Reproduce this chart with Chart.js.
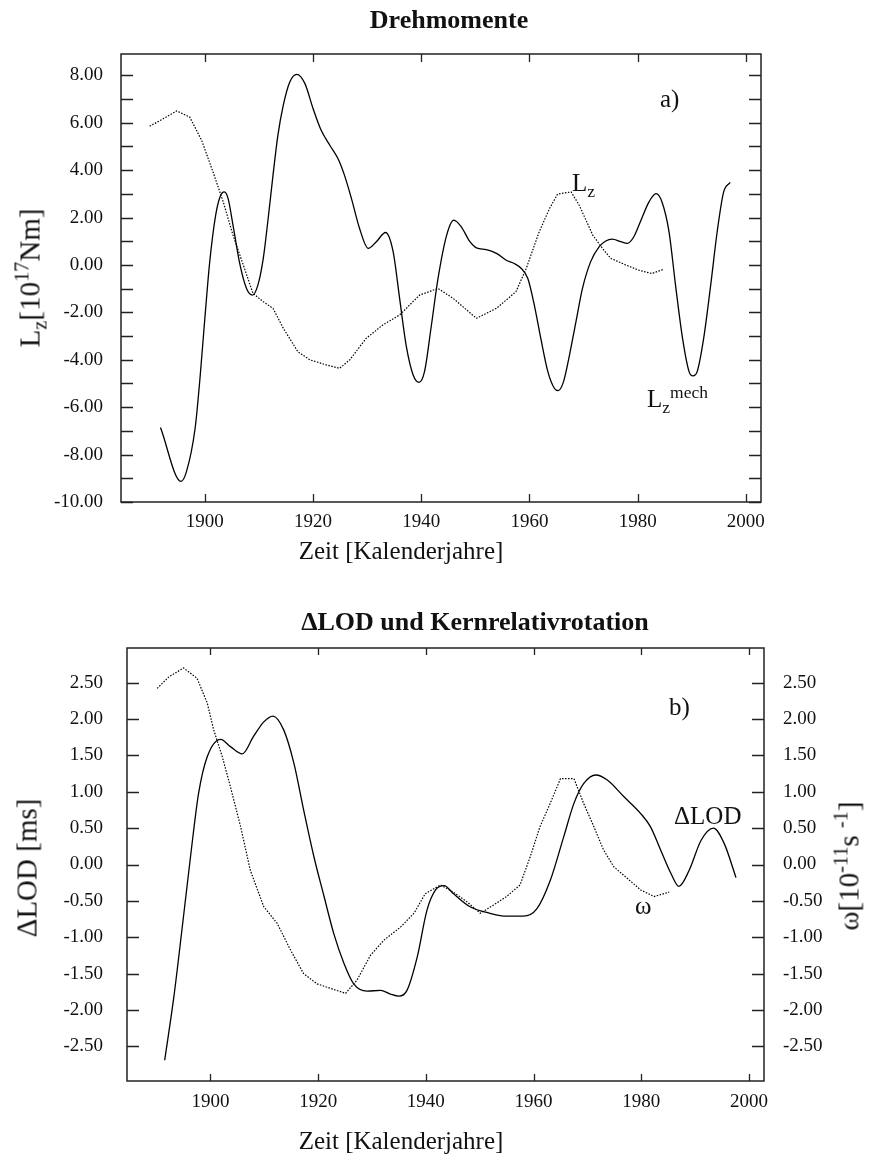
<!DOCTYPE html>
<html>
<head>
<meta charset="utf-8">
<script src="https://cdn.jsdelivr.net/npm/chart.js@4.4.1/dist/chart.umd.min.js"></script>
<style>
  body { margin: 0; background: #fff; }
  #wrap { position: relative; width: 870px; height: 1159px; font-family: "Liberation Serif", serif; color: #111; }
  canvas { position: absolute; left: 0; }
  .txt { position: absolute; white-space: nowrap; line-height: 1; }
  .titel { font-weight: bold; font-size: 26px; transform: translate(-50%, -50%); }
  .achse { font-size: 25px; transform: translate(-50%, -50%); }
  .dreh { font-size: 29px; transform: translate(-50%, -50%) rotate(-90deg); }
  .marke { font-size: 25px; }
  sub, sup { font-size: 0.7em; line-height: 0; }
</style>
</head>
<body>
<div id="wrap">
  <canvas id="chartDreh" width="870" height="580" style="top:0"></canvas>
  <canvas id="chartLod" width="870" height="579" style="top:580px"></canvas>

  <div class="txt titel" style="left:449px; top:20px">Drehmomente</div>
  <div class="txt achse" style="left:401px; top:550px">Zeit [Kalenderjahre]</div>
  <div class="txt dreh" style="left:30px; top:278px">L<sub>z</sub>[10<sup>17</sup>Nm]</div>
  <div class="txt marke" style="left:660px; top:86px">a)</div>
  <div class="txt marke" style="left:572px; top:170px">L<sub>z</sub></div>
  <div class="txt marke" style="left:647px; top:386px">L<sub>z</sub><sup>mech</sup></div>

  <div class="txt titel" style="left:475px; top:622px">ΔLOD und Kernrelativrotation</div>
  <div class="txt achse" style="left:401px; top:1140px">Zeit [Kalenderjahre]</div>
  <div class="txt dreh" style="left:27px; top:868px">ΔLOD [ms]</div>
  <div class="txt dreh" style="left:849px; top:866px">ω[10<sup>-11</sup>s <sup>-1</sup>]</div>
  <div class="txt marke" style="left:669px; top:694px">b)</div>
  <div class="txt marke" style="left:674px; top:803px">ΔLOD</div>
  <div class="txt marke" style="left:635px; top:893px">ω</div>
</div>

<script>
// Achsen
const jahreTicks = [1900, 1920, 1940, 1960, 1980, 2000];
const drehTicks = [-10, -9, -8, -7, -6, -5, -4, -3, -2, -1, 0, 1, 2, 3, 4, 5, 6, 7, 8];
const lodTicks = [-2.5, -2, -1.5, -1, -0.5, 0, 0.5, 1, 1.5, 2, 2.5];

// a) Drehmomente: Lz mech (durchgezogen)
const lzMechJahre = [1891.8, 1895.6, 1896.6, 1898.2, 1899.1, 1900.0, 1900.9, 1902.0, 1902.8, 1903.6, 1904.3, 1905.2, 1906.5, 1907.7, 1908.8, 1909.8, 1910.8, 1911.7, 1912.6, 1913.5, 1914.5, 1915.7, 1917.0, 1918.5, 1920.0, 1921.5, 1923.1, 1924.6, 1925.8, 1927.1, 1928.6, 1930.2, 1931.7, 1933.4, 1934.8, 1936.0, 1937.2, 1938.5, 1939.6, 1940.6, 1941.8, 1943.1, 1944.7, 1946.0, 1947.4, 1949.0, 1950.2, 1952.0, 1953.9, 1955.7, 1957.2, 1958.5, 1959.7, 1960.9, 1962.1, 1963.4, 1964.6, 1965.3, 1966.3, 1967.4, 1968.6, 1969.8, 1971.3, 1972.9, 1974.1, 1975.3, 1976.9, 1978.1, 1979.3, 1980.5, 1982.1, 1983.4, 1984.5, 1985.8, 1987.0, 1988.3, 1989.5, 1990.2, 1991.0, 1992.2, 1993.5, 1994.7, 1995.9, 1997.1];
const lzMechWerte = [-6.86, -9.13, -8.72, -6.89, -4.78, -2.25, 0.13, 2.10, 2.87, 3.08, 2.80, 1.68, 0.0, -0.99, -1.27, -0.85, 0.28, 1.96, 3.79, 5.47, 6.74, 7.72, 8.04, 7.65, 6.60, 5.68, 5.05, 4.49, 3.79, 2.80, 1.54, 0.70, 0.98, 1.37, 0.56, -1.41, -3.38, -4.64, -4.95, -4.50, -2.67, -0.57, 1.26, 1.89, 1.61, 0.98, 0.72, 0.65, 0.49, 0.20, 0.06, -0.15, -0.57, -1.69, -3.10, -4.50, -5.20, -5.30, -4.92, -3.80, -2.39, -0.99, 0.13, 0.77, 1.01, 1.09, 0.98, 0.91, 1.19, 1.82, 2.66, 3.01, 2.66, 1.40, -0.85, -3.10, -4.50, -4.68, -4.50, -3.10, -0.85, 1.40, 3.08, 3.48];

// a) Drehmomente: Lz (gepunktet)
const lzJahre = [1889.8, 1892.3, 1894.8, 1897.2, 1899.4, 1901.5, 1903.4, 1905.2, 1907.1, 1908.9, 1910.8, 1912.6, 1914.5, 1917.2, 1919.4, 1922.5, 1924.9, 1926.8, 1929.8, 1932.9, 1936.0, 1939.7, 1943.1, 1945.9, 1950.2, 1953.9, 1957.5, 1959.4, 1961.8, 1963.7, 1965.2, 1967.7, 1969.2, 1971.7, 1973.5, 1975.0, 1977.8, 1980.2, 1982.6, 1984.7];
const lzWerte = [5.85, 6.17, 6.50, 6.24, 5.26, 3.93, 2.66, 1.26, 0.0, -1.2, -1.55, -1.83, -2.67, -3.66, -4.0, -4.22, -4.36, -4.0, -3.1, -2.53, -2.11, -1.27, -0.99, -1.41, -2.25, -1.83, -1.13, -0.15, 1.40, 2.38, 2.99, 3.08, 2.52, 1.26, 0.70, 0.28, 0.0, -0.22, -0.36, -0.19];

// b) Delta LOD (durchgezogen)
const lodJahre = [1891.5, 1893.2, 1894.7, 1896.3, 1897.8, 1899.4, 1901.9, 1903.7, 1905.9, 1908.0, 1909.9, 1911.6, 1913.6, 1915.5, 1917.3, 1919.2, 1921.1, 1922.9, 1924.8, 1926.6, 1929.1, 1931.6, 1933.4, 1935.0, 1936.5, 1938.4, 1940.2, 1941.8, 1943.4, 1945.1, 1948.2, 1951.9, 1955.0, 1958.1, 1960.6, 1963.1, 1965.6, 1967.5, 1969.3, 1971.6, 1973.7, 1976.8, 1979.9, 1981.7, 1983.6, 1985.5, 1987.0, 1988.9, 1991.1, 1993.4, 1995.4, 1997.6];
const lodWerte = [-2.69, -1.82, -0.90, 0.11, 0.98, 1.48, 1.72, 1.62, 1.52, 1.76, 1.96, 2.04, 1.85, 1.39, 0.75, 0.11, -0.44, -0.95, -1.36, -1.64, -1.74, -1.73, -1.78, -1.81, -1.73, -1.27, -0.63, -0.35, -0.29, -0.40, -0.58, -0.67, -0.71, -0.71, -0.61, -0.22, 0.38, 0.84, 1.11, 1.23, 1.16, 0.93, 0.70, 0.52, 0.20, -0.12, -0.30, -0.08, 0.33, 0.50, 0.29, -0.18];

// b) Kernrelativrotation omega (gepunktet)
const omegaJahre = [1890.1, 1892.3, 1895.0, 1897.5, 1899.4, 1900.6, 1902.2, 1903.7, 1905.6, 1907.4, 1909.9, 1912.4, 1914.9, 1917.3, 1919.8, 1922.6, 1925.1, 1927.2, 1929.7, 1932.2, 1935.3, 1937.8, 1939.9, 1942.7, 1945.1, 1947.6, 1950.1, 1952.5, 1955.0, 1957.5, 1959.4, 1961.2, 1963.1, 1965.0, 1967.5, 1969.3, 1971.2, 1973.0, 1974.9, 1977.4, 1979.9, 1982.4, 1985.2];
const omegaWerte = [2.42, 2.58, 2.70, 2.56, 2.22, 1.85, 1.48, 1.07, 0.52, -0.08, -0.58, -0.81, -1.18, -1.50, -1.64, -1.71, -1.77, -1.59, -1.25, -1.04, -0.86, -0.67, -0.40, -0.28, -0.38, -0.51, -0.67, -0.56, -0.44, -0.28, 0.11, 0.52, 0.84, 1.18, 1.18, 0.84, 0.52, 0.20, -0.03, -0.19, -0.35, -0.44, -0.38];

function punkte(jahre, werte) {
    return jahre.map((j, i) => ({ x: j, y: werte[i] }));
}

// Innenliegende Striche und Rahmen wie im Original
const innenStriche = {
    id: "innenStriche",
    afterDraw(chart, args, opts) {
        const ctx = chart.ctx;
        const a = chart.chartArea;
        const sx = chart.scales.x, sy = chart.scales.y;
        ctx.save();
        ctx.strokeStyle = "#222";
        ctx.lineWidth = 1.3;
        ctx.beginPath();
        sx.ticks.forEach(t => {
            const px = Math.round(sx.getPixelForValue(t.value)) + 0.5;
            ctx.moveTo(px, a.top); ctx.lineTo(px, a.top + opts.xLen);
            ctx.moveTo(px, a.bottom); ctx.lineTo(px, a.bottom - opts.xLen);
        });
        sy.ticks.forEach(t => {
            const py = Math.round(sy.getPixelForValue(t.value)) + 0.5;
            ctx.moveTo(a.left, py); ctx.lineTo(a.left + opts.yLen, py);
            ctx.moveTo(a.right, py); ctx.lineTo(a.right - opts.yLen, py);
        });
        ctx.stroke();
        ctx.lineWidth = 1.5;
        ctx.strokeRect(a.left, a.top, a.right - a.left, a.bottom - a.top);
        ctx.restore();
    }
};

const tickFont = { family: "'Liberation Serif', serif", size: 19 };

function xAchse(hoehe, abstand) {
    return {
        type: "linear", min: 1884.5, max: 2002.8,
        afterBuildTicks: s => { s.ticks = jahreTicks.map(v => ({ value: v })); },
        afterFit: s => { s.height = hoehe; },
        grid: { display: false, drawTicks: false },
        border: { display: false },
        ticks: { font: tickFont, color: "#111", padding: abstand, maxRotation: 0, autoSkip: false, callback: v => String(v) }
    };
}

function linie(daten, gepunktet) {
    return {
        data: daten,
        borderColor: "#000",
        borderWidth: gepunktet ? 1.2 : 1.3,
        borderDash: gepunktet ? [1.5, 1.5] : [],
        pointRadius: 0,
        fill: false,
        tension: gepunktet ? 0 : 0.4,
        cubicInterpolationMode: gepunktet ? "default" : "monotone"
    };
}

const basisOptionen = {
    responsive: false,
    animation: false,
    devicePixelRatio: 1,
    plugins: { legend: { display: false }, tooltip: { enabled: false } }
};

// a) Drehmomente
new Chart(document.getElementById("chartDreh"), {
    type: "line",
    data: {
        datasets: [
            linie(punkte(lzMechJahre, lzMechWerte), false),
            linie(punkte(lzJahre, lzWerte), true)
        ]
    },
    options: {
        ...basisOptionen,
        layout: { padding: { top: 54, right: 109, bottom: 0, left: 0 } },
        plugins: { ...basisOptionen.plugins, innenStriche: { xLen: 8, yLen: 12 } },
        scales: {
            x: xAchse(78, 9),
            y: {
                type: "linear", min: -10, max: 8.9,
                afterBuildTicks: s => { s.ticks = drehTicks.map(v => ({ value: v })); },
                afterFit: s => { s.width = 121; },
                grid: { display: false, drawTicks: false },
                border: { display: false },
                ticks: { font: tickFont, color: "#111", padding: 18, autoSkip: false, callback: v => (v % 2 === 0 ? v.toFixed(2) : "") }
            }
        }
    },
    plugins: [innenStriche]
});

// b) Delta LOD und Kernrelativrotation
const lodAchse = (seite, breite, abstand) => ({
    type: "linear", position: seite, min: -2.975, max: 2.975,
    afterBuildTicks: s => { s.ticks = lodTicks.map(v => ({ value: v })); },
    afterFit: s => { s.width = breite; },
    grid: { display: false, drawTicks: false },
    border: { display: false },
    ticks: { font: tickFont, color: "#111", padding: abstand, autoSkip: false, callback: v => v.toFixed(2) }
});

new Chart(document.getElementById("chartLod"), {
    type: "line",
    data: {
        datasets: [
            linie(punkte(lodJahre, lodWerte), false),
            linie(punkte(omegaJahre, omegaWerte), true)
        ]
    },
    options: {
        ...basisOptionen,
        layout: { padding: { top: 68, right: 0, bottom: 0, left: 0 } },
        plugins: { ...basisOptionen.plugins, innenStriche: { xLen: 7, yLen: 12 } },
        scales: {
            x: xAchse(78, 10),
            y: lodAchse("left", 127, 24),
            y2: lodAchse("right", 106, 19)
        }
    },
    plugins: [innenStriche]
});
</script>
</body>
</html>
